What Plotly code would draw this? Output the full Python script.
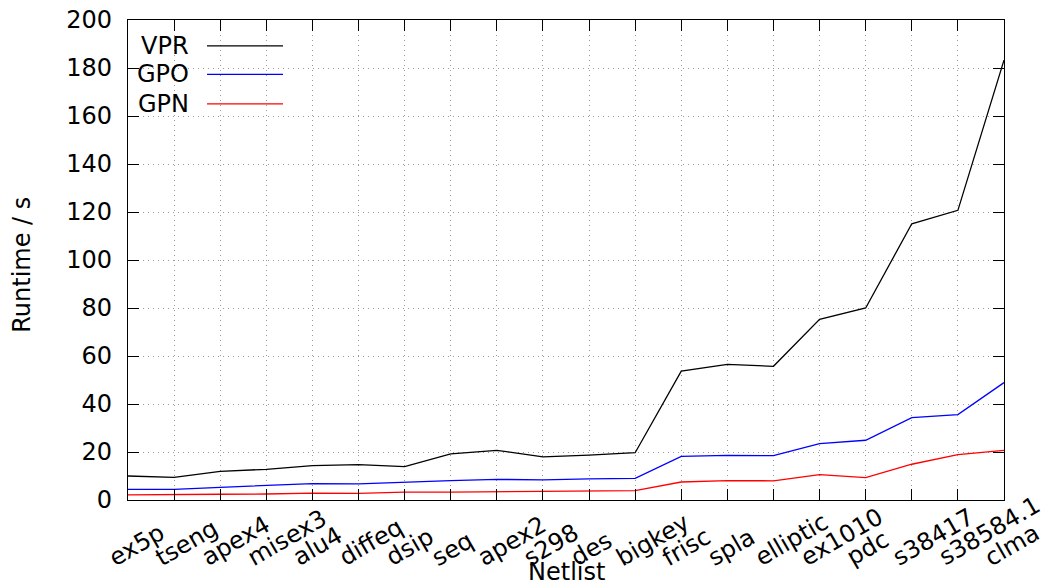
import plotly.graph_objects as go

# Benchmark netlists (x axis categories)
netlists = ["ex5p", "tseng", "apex4", "misex3", "alu4", "diffeq", "dsip", "seq",
            "apex2", "s298", "des", "bigkey", "frisc", "spla", "elliptic",
            "ex1010", "pdc", "s38417", "s38584.1", "clma"]

# Runtime in seconds per placer
vpr = [10.0, 9.4, 11.9, 12.8, 14.3, 14.7, 13.9, 19.2, 20.7, 18.0,
       18.7, 19.7, 53.7, 56.5, 55.7, 75.3, 80.0, 115.1, 120.7, 183.3]
gpo = [4.4, 4.4, 5.3, 6.0, 6.8, 6.7, 7.5, 8.1, 8.6, 8.4,
       8.8, 9.0, 18.2, 18.6, 18.5, 23.5, 24.9, 34.3, 35.6, 48.9]
gpn = [2.1, 2.1, 2.4, 2.5, 2.9, 2.8, 3.3, 3.3, 3.5, 3.6,
       3.7, 3.9, 7.5, 8.1, 8.0, 10.6, 9.3, 14.9, 18.9, 20.7]

series_names = ["VPR", "GPO", "GPN"]
series_values = [vpr, gpo, gpn]
series_colors = ["#000000", "#0000ff", "#ff0000"]

y_ticks = list(range(0, 201, 20))

FONT = "DejaVu Sans"
W, H = 1046, 585
ML, MR, MT, MB = 128, 42, 19.5, 85
PW, PH = W - ML - MR, H - MT - MB

xs = list(range(len(netlists)))

fig = go.Figure()
for name, vals, col in zip(series_names, series_values, series_colors):
    fig.add_trace(go.Scatter(x=xs, y=vals, mode="lines", name=name,
                             line=dict(color=col, width=1.3),
                             showlegend=False))

axis_common = dict(
    automargin=False,
    showline=True, linecolor="black", linewidth=1.2, mirror="ticks",
    ticks="inside", ticklen=11, tickcolor="black", tickwidth=1,
    showgrid=True, gridcolor="#9a9a9a", griddash="1px,4px", gridwidth=1,
    zeroline=False,
)

fig.update_xaxes(range=[0, len(netlists) - 1], tickvals=xs,
                 showticklabels=False, **axis_common)
fig.update_yaxes(range=[0, 200], tickvals=y_ticks,
                 tickfont=dict(family=FONT, size=24, color="black"),
                 ticklabelstandoff=10, **axis_common)

annotations = []
# Rotated category labels, anchored at their lower-left corner
for i, lab in enumerate(netlists):
    annotations.append(dict(
        x=i, xref="x", y=-(73 / PH), yref="paper",
        text=lab, showarrow=False, textangle=-30,
        xanchor="left", yanchor="bottom", xshift=-25, borderpad=0,
        font=dict(family=FONT, size=24, color="black")))

# Axis titles
annotations.append(dict(x=0.5, xref="paper", y=-(72 / PH), yref="paper",
                        text="Netlist", showarrow=False,
                        xanchor="center", yanchor="middle",
                        font=dict(family=FONT, size=24, color="black")))
annotations.append(dict(x=(22 - ML) / PW, xref="paper", y=0.49, yref="paper",
                        text="Runtime / s", showarrow=False, textangle=-90,
                        xanchor="center", yanchor="middle",
                        font=dict(family=FONT, size=24, color="black")))

# Key: label on the left, line sample on the right
shapes = []
key_rows = [45.5, 74, 103.5]
for name, col, yp in zip(series_names, series_colors, key_rows):
    yy = (H - MB - yp) / PH
    annotations.append(dict(x=(191 - ML) / PW, xref="paper", y=yy, yref="paper",
                            text=name, showarrow=False,
                            xanchor="right", yanchor="middle",
                            font=dict(family=FONT, size=24, color="black")))
    shapes.append(dict(type="line", xref="paper", yref="paper",
                       x0=(207 - ML) / PW, x1=(283 - ML) / PW, y0=yy, y1=yy,
                       line=dict(color=col, width=1.3)))

fig.update_layout(
    template="none",
    width=W, height=H,
    margin=dict(l=ML, r=MR, t=MT, b=MB, autoexpand=False),
    paper_bgcolor="white", plot_bgcolor="white",
    font=dict(family=FONT, size=24, color="black"),
    annotations=annotations, shapes=shapes,
    showlegend=False,
)

fig.write_html("out.html")
